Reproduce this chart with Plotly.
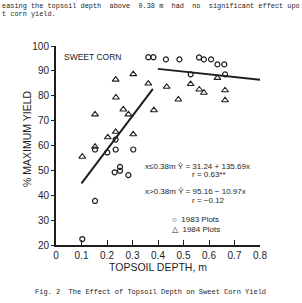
import plotly.graph_objects as go

# ---- data ----
x1983 = [0.362, 0.382, 0.480, 0.431, 0.484, 0.561, 0.580, 0.608, 0.633, 0.660, 0.528, 0.663,
         0.234, 0.153, 0.234, 0.201, 0.303, 0.230, 0.251, 0.251, 0.284, 0.153, 0.103]
y1983 = [95.5, 95.5, 100.5, 94.6, 94.6, 95.4, 94.6, 94.6, 92.6, 92.6, 88.6, 88.6,
         62.4, 58.4, 58.4, 57.2, 58.4, 49.2, 51.4, 49.8, 48.1, 37.7, 22.4]

x1984 = [0.303, 0.234, 0.362, 0.235, 0.153, 0.264, 0.284, 0.384, 0.203, 0.234, 0.303,
         0.153, 0.103, 0.611, 0.633, 0.434, 0.528, 0.562, 0.580, 0.663, 0.480, 0.663]
y1984 = [88.7, 86.5, 84.9, 79.3, 72.5, 74.5, 72.5, 74.2, 63.3, 65.5, 64.5,
         59.5, 55.5, 100.6, 87.2, 83.6, 84.7, 82.5, 81.2, 82.2, 78.5, 78.2]

fit_lo_x = [0.10, 0.38]
fit_lo_y = [44.8, 82.8]
fit_hi_x = [0.40, 0.80]
fit_hi_y = [90.8, 86.4]

x_ticks = [0, 0.1, 0.2, 0.3, 0.4, 0.5, 0.6, 0.7, 0.8]
x_ticktext = ["0", "0.1", "0.2", "0.3", "0.4", "0.5", "0.6", "0.7", "0.8"]
y_ticks = [20, 30, 40, 50, 60, 70, 80, 90, 100]

INK = "#1e1e1e"
SANS = "Liberation Sans, Arial, sans-serif"
MONO = "Liberation Mono, DejaVu Sans Mono, monospace"

W, H = 302, 303
L, R, T, B = 56, 42, 46, 58
PW, PH = W - L - R, H - T - B


def px(xp):
    return (xp - L) / PW


def py(yp):
    return (H - B - yp) / PH


fig = go.Figure()
fig.add_trace(go.Scatter(x=fit_lo_x, y=fit_lo_y, mode="lines",
                         line=dict(color=INK, width=2), showlegend=False))
fig.add_trace(go.Scatter(x=fit_hi_x, y=fit_hi_y, mode="lines",
                         line=dict(color=INK, width=2), showlegend=False))
fig.add_trace(go.Scatter(x=x1983, y=y1983, mode="markers", cliponaxis=False,
                         marker=dict(symbol="circle-open", size=5, color=INK,
                                     line=dict(width=1.2, color=INK)),
                         showlegend=False))
fig.add_trace(go.Scatter(x=x1984, y=y1984, mode="markers", cliponaxis=False,
                         marker=dict(symbol="triangle-up-open", size=6, color=INK,
                                     line=dict(width=1.1, color=INK)),
                         showlegend=False))

ann = []


def add(text, xp, yp, size, font=SANS, xanchor="left", angle=0):
    ann.append(dict(text=text, x=px(xp), y=py(yp), xref="paper", yref="paper",
                    xanchor=xanchor, yanchor="middle", showarrow=False,
                    textangle=angle, font=dict(family=font, size=size, color=INK)))


add("SWEET CORN", 62, 57, 8.5)
add("x≤0.38m Ŷ = 31.24 + 135.69x", 143, 166, 8)
add("r = 0.63**", 190, 174.5, 8)
add("x>0.38m Ŷ = 95.16 − 10.97x", 143, 191.5, 8)
add("r = −0.12", 190, 200, 8)
add("○  1983 Plots", 170, 219, 8)
add("△  1984 Plots", 170, 229, 8)
add("% MAXIMUM YIELD", 27, 139, 10.5, xanchor="center", angle=-90)
add("TOPSOIL DEPTH, m", 158, 267, 10.5, xanchor="center")
add("easing the topsoil depth  above  0.38 m  had  no  significant effect upo", 0, 6, 6.9, font=MONO)
add("t corn yield.", 0, 14.5, 6.9, font=MONO)
add("Fig. 2  The Effect of Topsoil Depth on Sweet Corn Yield", 150, 292, 7, font=MONO, xanchor="center")

fig.update_layout(
    width=W, height=H,
    margin=dict(l=L, r=R, t=T, b=B, pad=0),
    paper_bgcolor="white", plot_bgcolor="white",
    annotations=ann,
    xaxis=dict(range=[0, 0.8], tickvals=x_ticks, ticktext=x_ticktext,
               showgrid=False, zeroline=False, showline=True, linecolor=INK, linewidth=1.5,
               ticks="inside", ticklen=5, tickcolor=INK, tickwidth=1,
               tickfont=dict(family=SANS, size=10, color=INK)),
    yaxis=dict(range=[20, 100], tickvals=y_ticks,
               showgrid=False, zeroline=False, showline=True, linecolor=INK, linewidth=2,
               ticks="outside", ticklen=3, tickcolor=INK, tickwidth=1,
               tickfont=dict(family=SANS, size=10, color=INK)),
)

fig.write_html("out.html")
